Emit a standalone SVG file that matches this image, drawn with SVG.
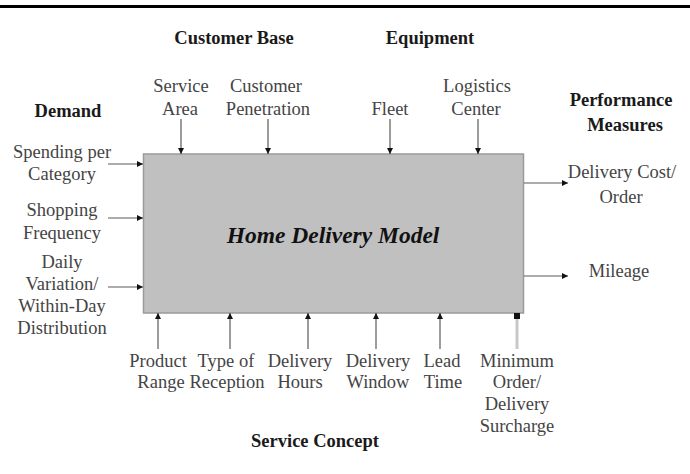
<svg xmlns="http://www.w3.org/2000/svg" width="690" height="474" viewBox="0 0 690 474">
  <defs>
    <marker id="head" viewBox="0 0 6 6" refX="6" refY="3" markerWidth="6" markerHeight="6" markerUnits="userSpaceOnUse" orient="auto">
      <path d="M0,0 L6,3 L0,6 Z" fill="#111"/>
    </marker>
    <style>
      .hd { font-family: "Liberation Serif", "Times New Roman", serif; font-weight: bold; font-size: 18.5px; fill: #1a1a1a; text-anchor: middle; }
      .lb { font-family: "Liberation Serif", "Times New Roman", serif; font-size: 18.5px; fill: #444; text-anchor: middle; }
      .title { font-family: "Liberation Serif", "Times New Roman", serif; font-weight: bold; font-style: italic; font-size: 23.5px; fill: #111; text-anchor: middle; }
      .ln { stroke: #5a5a5a; stroke-width: 1.2; fill: none; marker-end: url(#head); }
      .ln-pale { stroke: #c8c8c8; stroke-width: 3; fill: none; }
    </style>
  </defs>

  <rect width="690" height="474" fill="#fff"/>
  <!-- top rule -->
  <rect x="0" y="5" width="690" height="3" fill="#000"/>

  <!-- model box -->
  <g id="model">
    <rect x="143.5" y="154" width="380" height="159" fill="#c0c0c0" stroke="#9a9a9a" stroke-width="1.5"/>
    <text class="title" x="333" y="243">Home Delivery Model</text>
  </g>

  <!-- group headings -->
  <g id="customer-base"><text class="hd" x="234" y="44">Customer Base</text></g>
  <g id="equipment"><text class="hd" x="430" y="44">Equipment</text></g>
  <g id="demand"><text class="hd" x="68" y="117">Demand</text></g>
  <g id="performance-measures">
    <text class="hd" x="621" y="106">Performance</text>
    <text class="hd" x="625" y="131">Measures</text>
  </g>
  <g id="service-concept"><text class="hd" x="315" y="447">Service Concept</text></g>

  <!-- inputs from above -->
  <g id="service-area">
    <text class="lb" x="181" y="92">Service</text>
    <text class="lb" x="180" y="115">Area</text>
  </g>
  <g id="customer-penetration">
    <text class="lb" x="266" y="92">Customer</text>
    <text class="lb" x="268" y="115">Penetration</text>
  </g>
  <g id="fleet"><text class="lb" x="390" y="115">Fleet</text></g>
  <g id="logistics-center">
    <text class="lb" x="477" y="92">Logistics</text>
    <text class="lb" x="476" y="115">Center</text>
  </g>

  <!-- inputs from the left -->
  <g id="spending">
    <text class="lb" x="62" y="158">Spending per</text>
    <text class="lb" x="62" y="180">Category</text>
  </g>
  <g id="shopping-frequency">
    <text class="lb" x="62" y="216">Shopping</text>
    <text class="lb" x="62" y="239">Frequency</text>
  </g>
  <g id="daily-variation">
    <text class="lb" x="62" y="268">Daily</text>
    <text class="lb" x="62" y="290">Variation/</text>
    <text class="lb" x="62" y="312">Within-Day</text>
    <text class="lb" x="62" y="334">Distribution</text>
  </g>

  <!-- outputs -->
  <g id="delivery-cost">
    <text class="lb" x="622" y="178">Delivery Cost/</text>
    <text class="lb" x="621" y="203">Order</text>
  </g>
  <g id="mileage"><text class="lb" x="619" y="277">Mileage</text></g>

  <!-- inputs from below -->
  <g id="product-range">
    <text class="lb" x="158" y="367">Product</text>
    <text class="lb" x="161" y="388">Range</text>
  </g>
  <g id="type-of-reception">
    <text class="lb" x="226" y="367">Type of</text>
    <text class="lb" x="227" y="388">Reception</text>
  </g>
  <g id="delivery-hours">
    <text class="lb" x="300" y="367">Delivery</text>
    <text class="lb" x="300" y="388">Hours</text>
  </g>
  <g id="delivery-window">
    <text class="lb" x="378" y="367">Delivery</text>
    <text class="lb" x="378" y="388">Window</text>
  </g>
  <g id="lead-time">
    <text class="lb" x="442" y="367">Lead</text>
    <text class="lb" x="443" y="388">Time</text>
  </g>
  <g id="minimum-order">
    <text class="lb" x="517" y="367">Minimum</text>
    <text class="lb" x="517" y="388">Order/</text>
    <text class="lb" x="517" y="410">Delivery</text>
    <text class="lb" x="517" y="432">Surcharge</text>
  </g>

  <!-- connectors -->
  <g id="connectors">
    <line class="ln" x1="181" y1="119" x2="181" y2="154"/>
    <line class="ln" x1="268" y1="119" x2="268" y2="154"/>
    <line class="ln" x1="390" y1="119" x2="390" y2="154"/>
    <line class="ln" x1="478" y1="119" x2="478" y2="154"/>

    <line class="ln" x1="108" y1="164" x2="143" y2="164"/>
    <line class="ln" x1="108" y1="218" x2="143" y2="218"/>
    <line class="ln" x1="108" y1="287" x2="143" y2="287"/>

    <line class="ln" x1="524" y1="183" x2="568" y2="183"/>
    <line class="ln" x1="524" y1="276" x2="568" y2="276"/>

    <line class="ln" x1="158" y1="349" x2="158" y2="313"/>
    <line class="ln" x1="230" y1="349" x2="230" y2="313"/>
    <line class="ln" x1="308" y1="349" x2="308" y2="313"/>
    <line class="ln" x1="376" y1="349" x2="376" y2="313"/>
    <line class="ln" x1="440" y1="349" x2="440" y2="313"/>
    <line class="ln-pale" x1="517" y1="349" x2="517" y2="318"/>
    <path d="M514,313 L520,313 L520,319 L514,319 Z" fill="#111"/>
  </g>
</svg>
